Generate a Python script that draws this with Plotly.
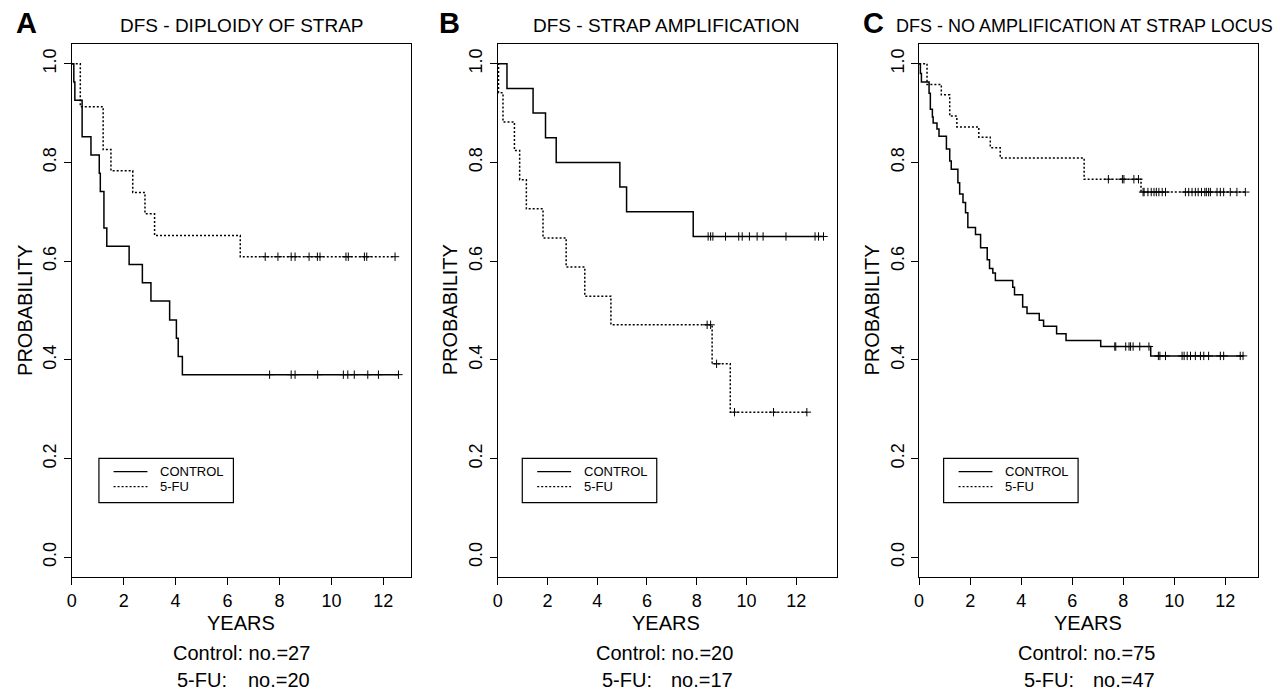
import numpy as np
import plotly.graph_objects as go

W, H = 1282, 690

# ---------------- data ----------------
year_ticks = [0, 2, 4, 6, 8, 10, 12]
prob_ticks = [0.0, 0.2, 0.4, 0.6, 0.8, 1.0]
prob_tick_labels = ["0.0", "0.2", "0.4", "0.6", "0.8", "1.0"]
series_names = ["CONTROL", "5-FU"]

panel_letters = ["A", "B", "C"]
panel_titles = ["DFS - DIPLOIDY OF STRAP", "DFS - STRAP AMPLIFICATION",
                "DFS - NO AMPLIFICATION AT STRAP LOCUS"]
control_n = [27, 20, 75]
fu_n = [20, 17, 47]

# Panel A
a_ctrl_t = [0, 0.08, 0.12, 0.40, 0.74, 1.06, 1.10, 1.24, 1.35, 2.21, 2.72, 3.05, 3.77, 4.03, 4.10, 4.26]
a_ctrl_s = [1.0, 0.963, 0.926, 0.852, 0.815, 0.778, 0.741, 0.667, 0.630, 0.593, 0.556, 0.519, 0.481, 0.444, 0.407, 0.370]
a_ctrl_cens = [7.62, 8.45, 8.60, 9.47, 10.46, 10.63, 10.88, 11.40, 11.81, 12.58]
a_fu_t = [0, 0.33, 1.21, 1.51, 2.35, 2.82, 3.19, 6.49]
a_fu_s = [1.0, 0.913, 0.826, 0.783, 0.739, 0.696, 0.652, 0.609]
a_fu_cens = [7.45, 7.94, 8.45, 8.60, 9.14, 9.46, 9.56, 10.56, 10.65, 11.27, 11.36, 12.45]

# Panel B
b_ctrl_t = [0, 0.37, 1.42, 1.92, 2.35, 4.91, 5.18, 7.86]
b_ctrl_s = [1.0, 0.95, 0.90, 0.85, 0.80, 0.75, 0.70, 0.65]
b_ctrl_cens = [8.46, 8.56, 8.65, 9.16, 9.69, 9.83, 10.12, 10.43, 10.67, 11.59, 12.76, 12.90, 13.10]
b_fu_t = [0, 0.03, 0.21, 0.67, 0.88, 1.15, 1.82, 2.75, 3.50, 4.55, 8.62, 9.35]
b_fu_s = [1.0, 0.941, 0.882, 0.824, 0.765, 0.706, 0.647, 0.588, 0.529, 0.471, 0.392, 0.294]
b_fu_cens = [8.42, 8.56, 8.80, 9.52, 11.09, 12.43]

# Panel C
c_ctrl_t = [0, 0.05, 0.09, 0.39, 0.44, 0.52, 0.55, 0.70, 0.78, 1.07, 1.20, 1.26, 1.52, 1.59, 1.72,
            1.82, 1.91, 2.21, 2.41, 2.67, 2.76, 2.89, 2.99, 3.67, 3.74, 4.06, 4.23, 4.71, 4.88,
            5.39, 5.76, 7.12, 9.08]
c_ctrl_s = [1.0, 0.980, 0.963, 0.940, 0.908, 0.892, 0.880, 0.868, 0.853, 0.827, 0.803, 0.786, 0.759,
            0.736, 0.719, 0.698, 0.668, 0.654, 0.627, 0.603, 0.585, 0.576, 0.561, 0.547, 0.532,
            0.507, 0.494, 0.480, 0.468, 0.453, 0.439, 0.427, 0.408]
c_ctrl_cens = [7.67, 7.71, 8.10, 8.23, 8.29, 8.39, 8.65, 9.01,
               9.38, 9.44, 9.66, 10.31, 10.39, 10.51, 10.64, 10.83, 11.03, 11.16, 11.35,
               11.81, 11.94, 12.59, 12.70]
c_fu_t = [0, 0.31, 0.87, 1.20, 1.48, 2.34, 2.79, 3.18, 6.47, 8.70]
c_fu_s = [1.0, 0.958, 0.937, 0.894, 0.872, 0.851, 0.830, 0.809, 0.766, 0.740]
c_fu_cens = [7.42, 7.97, 8.03, 8.42, 8.60,
             8.78, 8.82, 8.97, 9.10, 9.21, 9.30, 9.40, 9.53, 9.66, 10.44, 10.57, 10.70, 10.83,
             10.94, 11.07, 11.20, 11.26, 11.35, 11.42, 11.68, 11.81, 11.94, 12.20, 12.46, 12.79]

x_max = [13.08, 13.66, 13.29]

panels = [
    (a_ctrl_t, a_ctrl_s, a_ctrl_cens, a_fu_t, a_fu_s, a_fu_cens),
    (b_ctrl_t, b_ctrl_s, b_ctrl_cens, b_fu_t, b_fu_s, b_fu_cens),
    (c_ctrl_t, c_ctrl_s, c_ctrl_cens, c_fu_t, c_fu_s, c_fu_cens),
]

# ---------------- layout helpers (pixel -> paper) ----------------
def px(x):
    return x / W

def py(y):
    return 1 - y / H

plot_left = [67, 494.7, 917.7]
plot_right = [408, 835.7, 1258]
plot_top, plot_bottom = 44, 577

FONT = "Liberation Sans, Arial, Helvetica, sans-serif"
DOT = "2px,2px"

fig = go.Figure()

def step_xy(t, s, cens):
    end = max(max(cens), t[-1])
    return list(t) + [end], list(s) + [s[-1]]

def level_at(t, s, times):
    idx = np.searchsorted(np.array(t), np.array(times), side="right") - 1
    return [s[i] for i in idx]

for i, (ct, cs, cc, ft, fs, fc) in enumerate(panels):
    xa = "x" if i == 0 else f"x{i+1}"
    ya = "y" if i == 0 else f"y{i+1}"
    for t, s, c, dash in [(ct, cs, cc, "solid"), (ft, fs, fc, DOT)]:
        xs, ys = step_xy(t, s, c)
        fig.add_trace(go.Scatter(x=xs, y=ys, mode="lines", line=dict(color="black", width=1.5, dash=dash, shape="hv"),
                                 xaxis=xa, yaxis=ya, showlegend=False, hoverinfo="skip"))
        fig.add_trace(go.Scatter(x=c, y=level_at(t, s, c), mode="markers",
                                 marker=dict(symbol="cross-thin", size=6, color="black",
                                             line=dict(color="black", width=1)),
                                 xaxis=xa, yaxis=ya, showlegend=False, hoverinfo="skip"))

    axis_common = dict(showline=True, linecolor="black", linewidth=1.3, mirror=True,
                       ticks="outside", ticklen=7, tickwidth=1.2, tickcolor="black",
                       showgrid=False, zeroline=False,
                       tickfont=dict(family=FONT, size=18, color="black"))
    xkey = "xaxis" if i == 0 else f"xaxis{i+1}"
    ykey = "yaxis" if i == 0 else f"yaxis{i+1}"
    fig.layout[xkey] = dict(axis_common, domain=[px(plot_left[i]), px(plot_right[i])],
                            range=[0, x_max[i]], tickvals=year_ticks, anchor=ya)
    fig.layout[ykey] = dict(axis_common, domain=[py(plot_bottom), py(plot_top)],
                            range=[-0.04, 1.04], tickvals=prob_ticks, ticktext=prob_tick_labels,
                            tickangle=-90, anchor=xa)

annotations = []
shapes = []

def ann(text, x, y, size, xanchor="center", yanchor="middle", angle=0, bold=False):
    annotations.append(dict(text=f"<b>{text}</b>" if bold else text, x=px(x), y=py(y),
                            xref="paper", yref="paper", showarrow=False,
                            xanchor=xanchor, yanchor=yanchor, textangle=angle,
                            font=dict(family=FONT, size=size, color="black")))

letter_x = [22, 446, 872]
title_x = [238, 664, 1084]
title_size = [19, 19, 18]
years_x = [237, 664, 1087]
prob_x = [20, 447, 870]
count_left = [171, 597, 1021]
count_right = [308, 733, 1157]
legend_left = [94.3, 519.3, 942.3]
legend_line_x0 = [109, 534.3, 957.3]
legend_text_x = [154, 579, 1001.7]

for i in range(3):
    ann(panel_letters[i], letter_x[i], 23, 29, bold=True)
    ann(panel_titles[i], title_x[i], 26, title_size[i])
    ann("YEARS", years_x[i], 623, 20)
    ann("PROBABILITY", prob_x[i], 310, 20, angle=-90)
    ann(f"Control: no.={control_n[i]}", count_right[i], 653, 20, xanchor="right")
    ann("5-FU:", count_left[i], 680, 20, xanchor="left")
    ann(f"no.={fu_n[i]}", count_right[i], 680, 20, xanchor="right")
    # legend box
    shapes.append(dict(type="rect", xref="paper", yref="paper",
                       x0=px(legend_left[i]), x1=px(legend_left[i] + 135),
                       y0=py(502.7), y1=py(458.3), line=dict(color="black", width=1.2)))
    for k, (dash, yy) in enumerate([("solid", 471.7), (DOT, 486.7)]):
        shapes.append(dict(type="line", xref="paper", yref="paper",
                           x0=px(legend_line_x0[i]), x1=px(legend_line_x0[i] + 34),
                           y0=py(yy), y1=py(yy), line=dict(color="black", width=1.3, dash=dash)))
        ann(series_names[k], legend_text_x[i], yy, 13, xanchor="left")

fig.update_layout(
    width=W, height=H,
    margin=dict(l=0, r=0, t=0, b=0),
    paper_bgcolor="white", plot_bgcolor="white",
    annotations=annotations, shapes=shapes,
    showlegend=False,
)

fig.write_html("out.html",
               config={"displayModeBar": False},
               post_script="document.body.style.margin='0px';document.body.style.padding='0px';"
                           "document.documentElement.style.overflow='hidden';")
